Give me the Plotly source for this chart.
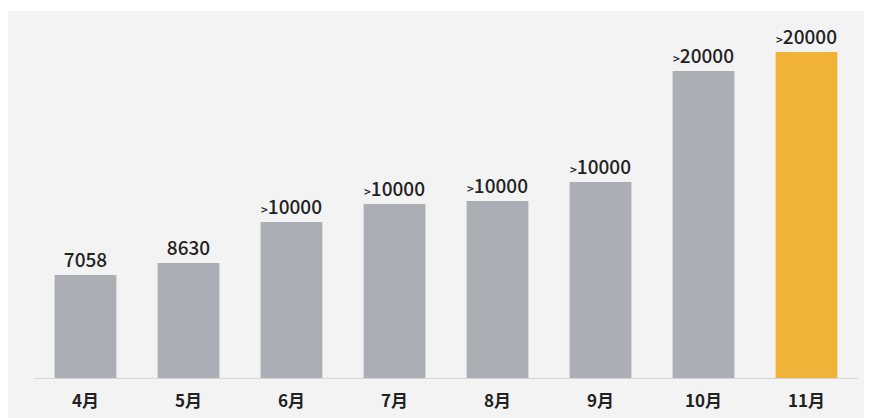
import plotly.graph_objects as go

months = ["4月", "5月", "6月", "7月", "8月", "9月", "10月", "11月"]
labels = ["7058", "8630", ">10000", ">10000", ">10000", ">10000", ">20000", ">20000"]
# bar heights as drawn in the picture (visual units)
heights = [103, 115, 156, 174, 177, 196, 307, 326]
colors = ["#abaeb4"] * 7 + ["#f1b337"]

def fmt(s):
    if s.startswith(">"):
        return "<span style='font-size:12px'>&gt;</span>" + s[1:]
    return s

fig = go.Figure(go.Bar(
    x=months, y=heights,
    marker=dict(color=colors, line=dict(width=0)),
    width=0.6,
    text=[fmt(s) for s in labels],
    textposition="outside",
    textfont=dict(size=19, color="#222222", family="Noto Sans CJK SC", weight=500),
    cliponaxis=False,
    hoverinfo="skip",
))

fig.update_layout(
    width=872, height=418,
    margin=dict(l=26, r=22, t=12, b=48),
    paper_bgcolor="#f3f3f3",
    plot_bgcolor="rgba(0,0,0,0)",
    showlegend=False,
    shapes=[dict(type="rect", xref="paper", yref="paper",
                 x0=-0.1, x1=1.1, y0=1.0251, y1=1.2,
                 fillcolor="white", line=dict(width=0), layer="below")],
    xaxis=dict(showline=True, linecolor="#d6d6d6", linewidth=1,
               ticks="outside", ticklen=8, tickcolor="rgba(0,0,0,0)",
               tickfont=dict(size=17, color="#222222", family="Noto Sans CJK SC", weight=700),
               showgrid=False, zeroline=False),
    yaxis=dict(range=[0, 358], visible=False, showgrid=False, zeroline=False),
    bargap=0.4,
)

fig.write_html("out.html")
